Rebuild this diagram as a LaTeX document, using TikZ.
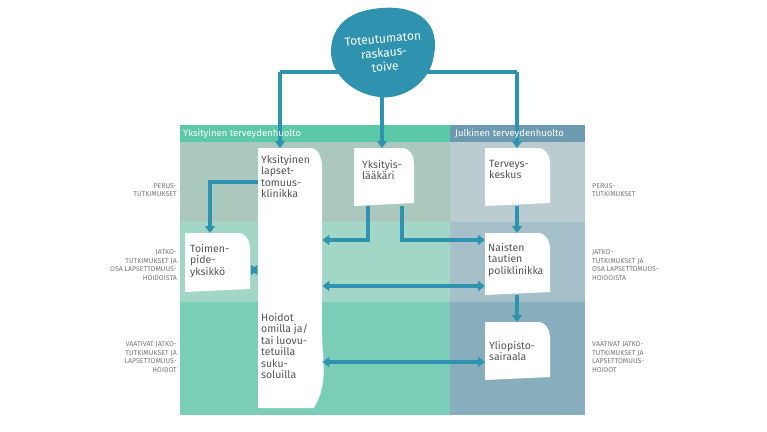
\documentclass[tikz,border=0pt]{standalone}
\usepackage{fontspec}
\setmainfont{Fira Sans}
\usetikzlibrary{arrows.meta}
\definecolor{myteal}{HTML}{2F93B0}
\definecolor{txt}{HTML}{555555}
\definecolor{side}{HTML}{777777}
\begin{document}
\begin{tikzpicture}[x=1pt,y=-1pt,
  ln/.style={myteal,line width=3.5pt},
  ar/.style={ln,-{Triangle[width=10pt,length=7pt]}},
  dar/.style={ln,{Triangle[width=10pt,length=7pt]}-{Triangle[width=10pt,length=7pt]}},
  box/.style={inner sep=0pt,align=left,text=txt,font=\fontsize{10.5}{11.5}\selectfont,anchor=north west},
  sl/.style={text=side,font=\fontsize{7}{8.5}\selectfont,inner sep=0pt},
  hd/.style={anchor=west,white,font=\fontsize{9.5}{10}\selectfont,inner sep=0pt}]
\useasboundingbox (0,0) rectangle (767,431);
\fill[white] (0,0) rectangle (767,431);
% backgrounds
\fill[color={rgb,255:red,91;green,200;blue,168}] (180,125) rectangle (450,142);
\fill[color={rgb,255:red,108;green,154;blue,174}] (450,125) rectangle (585,142);
\fill[color={rgb,255:red,170;green,200;blue,190}] (180,142) rectangle (450,222);
\fill[color={rgb,255:red,162;green,214;blue,198}] (180,222) rectangle (450,302);
\fill[color={rgb,255:red,122;green,205;blue,182}] (180,302) rectangle (450,415);
\fill[color={rgb,255:red,186;green,204;blue,208}] (450,142) rectangle (585,222);
\fill[color={rgb,255:red,165;green,192;blue,200}] (450,222) rectangle (585,302);
\fill[color={rgb,255:red,136;green,174;blue,190}] (450,302) rectangle (585,415);
% white box shapes
\def\bx#1#2#3#4{\fill[white] (#1,#2) -- (#3-12,#2) to[out=0,in=95] (#3,#2+14) -- (#3,#4-3) -- (#1,#4) -- cycle;}
\fill[white] (258,148) -- (310,148) to[out=0,in=95] (322,165) -- (322,330) to[out=-90,in=60] (314,408) -- (258,408) -- cycle;
\bx{354}{148}{414}{206}
\bx{485}{148}{550}{206}
\bx{185}{233}{250}{292}
\bx{485}{233}{550}{295}
\bx{485}{322}{550}{380}
% text nodes
\node[box,minimum width=64pt,minimum height=260pt] (kl) at (258,148) {};
\node[box] (klt) at (261,155) {Yksityinen\\lapset-\\tomuus-\\klinikka};
\node[box] (hoi) at (261,313) {Hoidot\\omilla ja/\\tai luovu-\\tetuilla\\suku-\\soluilla};
\node[box,minimum width=60pt,minimum height=58pt] (yl) at (354,148) {};
\node[box] at (362,160) {Yksityis-\\lääkäri};
\node[box,minimum width=65pt,minimum height=58pt] (tk) at (485,148) {};
\node[box] at (489,160) {Terveys-\\keskus};
\node[box,minimum width=65pt,minimum height=59pt] (tp) at (185,233) {};
\node[box] at (190,244) {Toimen-\\pide-\\yksikkö};
\node[box,minimum width=65pt,minimum height=62pt] (na) at (485,233) {};
\node[box] at (488,243) {Naisten\\tautien\\poliklinikka};
\node[box,minimum width=65pt,minimum height=58pt] (yo) at (485,322) {};
\node[box] at (489,341) {Yliopisto-\\sairaala};
% top connectors
\draw[ln] (280,72) -- (517,72);
\draw[ar] (280,72) -- (kl.north -| 280,0);
\draw[ar] (382,72) -- (yl.north -| 382,0);
\draw[ar] (517,72) -- (tk.north -| 517,0);
% blob
\fill[myteal] (382,8) .. controls (420,5) and (440,25) .. (434,55) .. controls (430,85) and (400,100) .. (380,97) .. controls (355,95) and (330,75) .. (331,50) .. controls (332,25) and (350,10) .. (382,8) -- cycle;
\node[white,align=center,font=\fontsize{12}{14}\selectfont,rotate=5,inner sep=0pt] (blob) at (384,53) {Toteutumaton\\raskaus-\\toive};
% connectors
\draw[ar] (kl.west |- 0,182) -- (210,182) -- (tp.north -| 210,0);
\draw[dar] (tp.east |- 0,270) -- (kl.west |- 0,270);
\draw[ar] (368,206) -- (368,240) -- (kl.east |- 0,240);
\draw[ar] (402,206) -- (402,240) -- (na.west |- 0,240);
\draw[ar] (tk.south -| 517,0) -- (na.north -| 517,0);
\draw[dar] (kl.east |- 0,286) -- (na.west |- 0,286);
\draw[ar] (na.south -| 517,0) -- (yo.north -| 517,0);
\draw[dar] (kl.east |- 0,362) -- (yo.west |- 0,362);
% headers
\node[hd] (hp) at (183,133.5) {Yksityinen terveydenhuolto};
\node[hd] (hj) at (455,133.5) {Julkinen terveydenhuolto};
% side labels
\node[sl,align=right,anchor=east] (l1) at (177,190) {PERUS-\\TUTKIMUKSET};
\node[sl,align=right,anchor=east] (l2) at (177,265) {JATKO-\\TUTKIMUKSET JA\\OSA LAPSETTOMUUS-\\HOIDOISTA};
\node[sl,align=right,anchor=east] (l3) at (177,357) {VAATIVAT JATKO-\\TUTKIMUKSET JA\\LAPSETTOMUUS-\\HOIDOT};
\node[sl,align=left,anchor=west] (r1) at (592,190) {PERUS-\\TUTKIMUKSET};
\node[sl,align=left,anchor=west] (r2) at (592,265) {JATKO-\\TUTKIMUKSET JA\\OSA LAPSETTOMUUS-\\HOIDOISTA};
\node[sl,align=left,anchor=west] (r3) at (592,357) {VAATIVAT JATKO-\\TUTKIMUKSET JA\\LAPSETTOMUUS-\\HOIDOT};
\end{tikzpicture}
\end{document}
